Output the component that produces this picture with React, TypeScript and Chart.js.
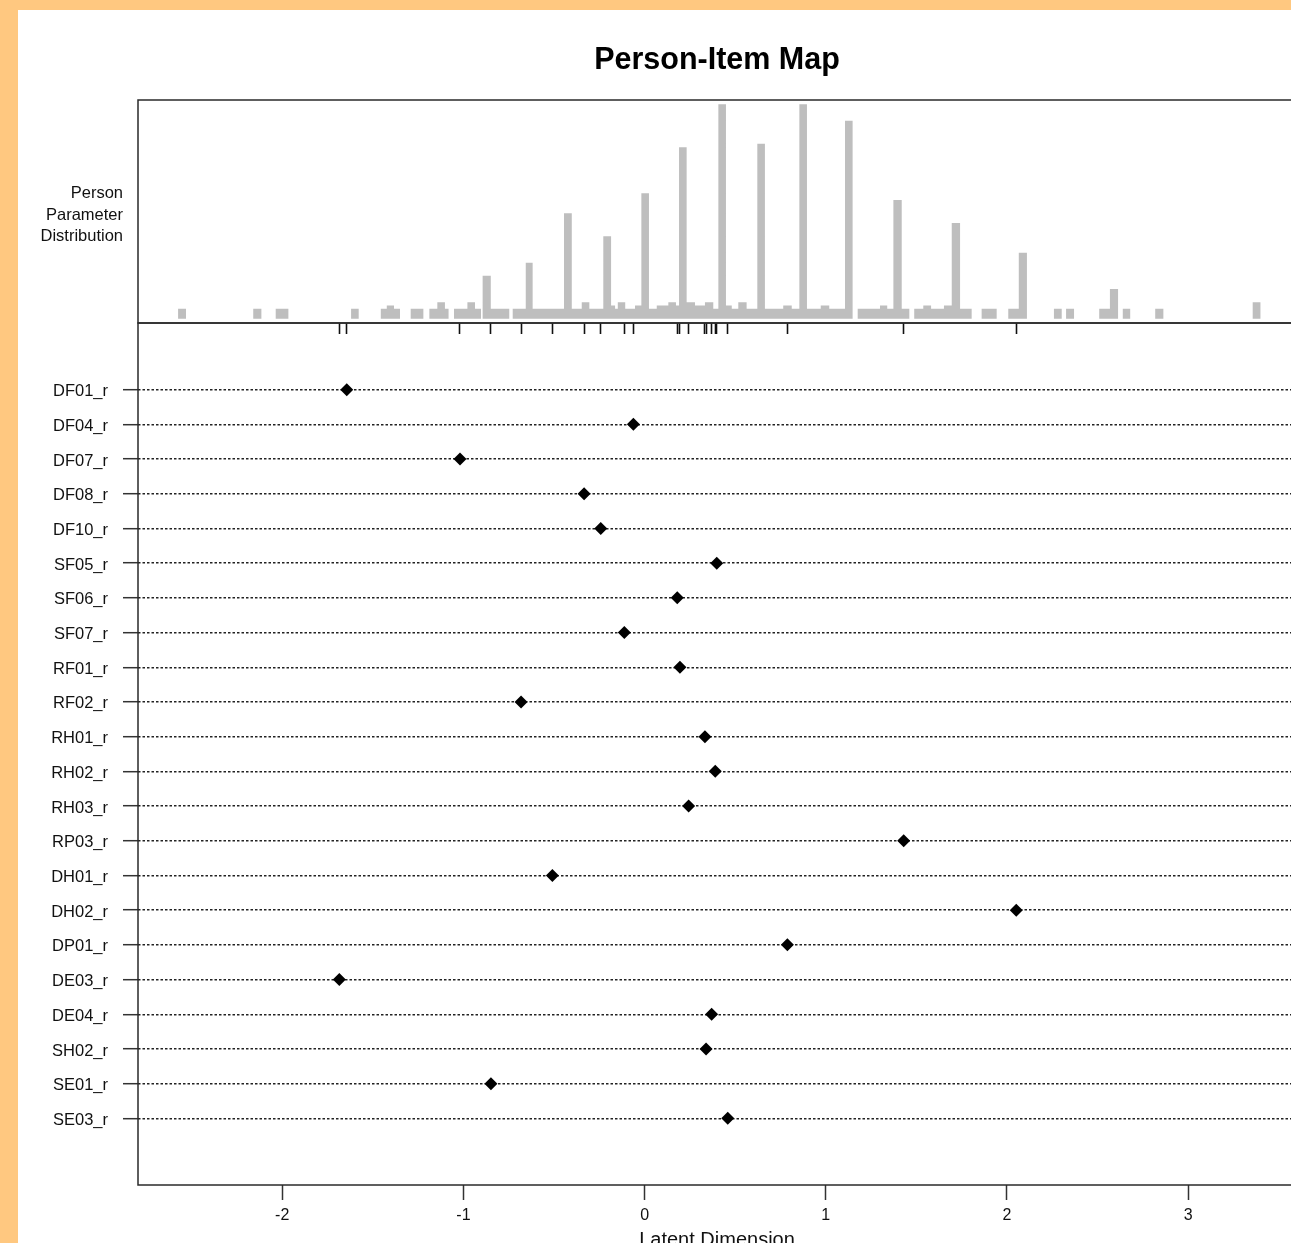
import React, { useEffect, useRef } from "react";
import { Chart, registerables } from "chart.js";

Chart.register(...registerables);

const FONT = '"Liberation Sans", Arial, Helvetica, sans-serif';

// Items (rows, top to bottom) and their locations on the latent dimension
const itemNames = [
  "DF01_r", "DF04_r", "DF07_r", "DF08_r", "DF10_r", "SF05_r", "SF06_r", "SF07_r",
  "RF01_r", "RF02_r", "RH01_r", "RH02_r", "RH03_r", "RP03_r", "DH01_r", "DH02_r",
  "DP01_r", "DE03_r", "DE04_r", "SH02_r", "SE01_r", "SE03_r",
];
const itemLocations = [
  -1.644, -0.062, -1.019, -0.334, -0.242, 0.398, 0.180, -0.112,
  0.195, -0.682, 0.333, 0.390, 0.243, 1.430, -0.509, 2.051,
  0.788, -1.685, 0.370, 0.339, -0.848, 0.459,
];

// Person parameter distribution: count holds from each edge to the next edge
const histEdges = [
  -2.575, -2.531, -2.160, -2.115, -2.036, -1.966, -1.620, -1.578, -1.456, -1.423,
  -1.383, -1.350, -1.291, -1.221, -1.188, -1.144, -1.102, -1.082, -1.052, -0.978,
  -0.936, -0.903, -0.894, -0.849, -0.747, -0.728, -0.656, -0.618, -0.445, -0.402,
  -0.347, -0.305, -0.228, -0.185, -0.163, -0.148, -0.107, -0.053, -0.018, 0.024,
  0.067, 0.131, 0.173, 0.190, 0.232, 0.278, 0.333, 0.379, 0.407, 0.449,
  0.481, 0.517, 0.563, 0.622, 0.664, 0.765, 0.812, 0.854, 0.896, 0.972,
  1.019, 1.106, 1.148, 1.176, 1.299, 1.339, 1.373, 1.419, 1.461, 1.488,
  1.538, 1.581, 1.652, 1.695, 1.741, 1.805, 1.860, 1.943, 2.007, 2.065,
  2.110, 2.259, 2.302, 2.326, 2.370, 2.509, 2.568, 2.613, 2.639, 2.680,
  2.818, 2.863, 3.356, 3.400,
];
const histCounts = [
  3, 0, 3, 0, 3, 0, 3, 0, 3, 4,
  3, 0, 3, 0, 3, 5, 3, 0, 3, 5,
  3, 0, 13, 3, 0, 3, 17, 3, 32, 3,
  5, 3, 25, 4, 3, 5, 3, 4, 38, 3,
  4, 5, 4, 52, 5, 4, 5, 3, 65, 4,
  3, 5, 3, 53, 3, 4, 3, 65, 3, 4,
  3, 60, 0, 3, 4, 3, 36, 3, 0, 3,
  4, 3, 4, 29, 3, 0, 3, 0, 3, 20,
  0, 3, 0, 3, 0, 3, 9, 0, 3, 0,
  3, 0, 5, 0,
];

const xTickValues = [-2, -1, 0, 1, 2, 3];
const sideLabelLines = ["Person", "Parameter", "Distribution"];

const X_MIN = -2.796;
const X_MAX = 3.595;

const boxPlugin = {
  id: "panelBox",
  afterDraw(chart: any) {
    const { ctx, chartArea: a } = chart;
    ctx.save();
    ctx.strokeStyle = "#2a2a2a";
    ctx.lineWidth = 1.5;
    ctx.strokeRect(a.left, a.top, a.right - a.left, a.bottom - a.top);
    ctx.restore();
  },
};

const sideLabelPlugin = {
  id: "sideLabel",
  afterDraw(chart: any) {
    const { ctx, chartArea: a } = chart;
    ctx.save();
    ctx.font = `16.5px ${FONT}`;
    ctx.fillStyle = "#111";
    ctx.textAlign = "right";
    ctx.textBaseline = "middle";
    const cy = (a.top + a.bottom) / 2 + 3.5;
    sideLabelLines.forEach((t, i) => ctx.fillText(t, a.left - 15, cy + (i - 1) * 21.5));
    ctx.restore();
  },
};

export default function App() {
  const topRef = useRef<HTMLCanvasElement>(null);
  const botRef = useRef<HTMLCanvasElement>(null);

  useEffect(() => {
    Chart.defaults.font.family = FONT;
    const top = new Chart(topRef.current as HTMLCanvasElement, {
      type: "line",
      data: {
        datasets: [
          {
            data: histEdges.map((x, i) => ({ x, y: histCounts[i] })),
            stepped: "before",
            fill: "origin",
            backgroundColor: "#BEBEBE",
            borderColor: "rgba(0,0,0,0)",
            borderWidth: 0,
            pointRadius: 0,
          } as any,
        ],
      },
      options: {
        responsive: false,
        animation: false,
        layout: { padding: { left: 138, right: 44, top: 43, bottom: 0 } },
        plugins: {
          legend: { display: false },
          tooltip: { enabled: false },
          title: {
            display: true,
            text: "Person-Item Map",
            fullSize: false,
            color: "#000",
            font: { family: FONT, size: 30.5, weight: "bold", lineHeight: "36px" } as any,
            padding: { top: 0, bottom: 21 },
          },
        },
        scales: {
          x: {
            type: "linear",
            min: X_MIN,
            max: X_MAX,
            afterBuildTicks: (ax: any) => {
              ax.ticks = itemLocations.map((v) => ({ value: v }));
            },
            afterFit: (ax: any) => {
              ax.height = 11;
              ax.paddingLeft = 0;
              ax.paddingRight = 0;
            },
            ticks: { display: false },
            grid: {
              drawOnChartArea: false,
              drawTicks: true,
              tickLength: 11,
              tickColor: "#111",
              tickWidth: 1.6,
            },
            border: { display: false },
          },
          y: { display: false, min: -1.3, max: 66.3 },
        },
      },
      plugins: [boxPlugin, sideLabelPlugin],
    } as any);

    const bottom = new Chart(botRef.current as HTMLCanvasElement, {
      type: "scatter",
      data: {
        datasets: [
          {
            data: itemLocations.map((x, i) => ({ x, y: i + 1 })),
            pointStyle: "rectRot",
            pointRadius: 6.5,
            backgroundColor: "#000",
            borderColor: "#000",
            borderWidth: 0,
          } as any,
        ],
      },
      options: {
        responsive: false,
        animation: false,
        layout: { padding: { left: 0, right: 44, top: 10, bottom: 0 } },
        plugins: { legend: { display: false }, tooltip: { enabled: false } },
        scales: {
          x: {
            type: "linear",
            min: X_MIN,
            max: X_MAX,
            afterBuildTicks: (ax: any) => {
              ax.ticks = xTickValues.map((v) => ({ value: v }));
            },
            afterFit: (ax: any) => {
              ax.height = 69;
              ax.paddingLeft = 0;
              ax.paddingRight = 0;
            },
            ticks: {
              autoSkip: false,
              maxRotation: 0,
              padding: 6,
              color: "#111",
              font: { family: FONT, size: 16, lineHeight: "20px" } as any,
              callback: (v: any) => String(v),
            },
            grid: {
              drawOnChartArea: false,
              tickLength: 15,
              tickColor: "#333",
              tickWidth: 1.5,
            },
            border: { display: false },
            title: {
              display: true,
              text: "Latent Dimension",
              color: "#111",
              font: { family: FONT, size: 20, lineHeight: "20px" } as any,
              padding: { top: 4, bottom: 4 },
            },
          },
          y: {
            type: "linear",
            reverse: true,
            min: -0.92,
            max: 23.92,
            afterBuildTicks: (ax: any) => {
              ax.ticks = itemNames.map((_, i) => ({ value: i + 1 }));
            },
            afterFit: (ax: any) => {
              ax.width = 138;
              ax.paddingTop = 0;
              ax.paddingBottom = 0;
            },
            ticks: {
              autoSkip: false,
              padding: 15,
              labelOffset: 2,
              color: "#111",
              font: { family: FONT, size: 16.5 },
              callback: (v: any) => itemNames[Math.round(v) - 1] ?? "",
            },
            grid: {
              drawOnChartArea: true,
              color: "#222",
              lineWidth: 1.4,
              tickLength: 15,
              tickColor: "#333",
              tickWidth: 1.5,
              tickBorderDash: [],
            },
            border: { display: false, dash: [2.5, 2] },
          },
        },
      },
      plugins: [boxPlugin],
    } as any);

    return () => {
      top.destroy();
      bottom.destroy();
    };
  }, []);

  return (
    <div
      style={{
        position: "fixed",
        left: 0,
        top: 0,
        width: "100vw",
        height: "100vh",
        overflow: "hidden",
        background: "#FFC880",
      }}
    >
      <div
        style={{
          position: "absolute",
          left: 18,
          top: 10,
          right: -300,
          bottom: -300,
          background: "#ffffff",
        }}
      />
      <canvas
        ref={topRef}
        width={1340}
        height={334}
        style={{ position: "absolute", left: 0, top: 0 }}
      />
      <canvas
        ref={botRef}
        width={1340}
        height={941}
        style={{ position: "absolute", left: 0, top: 313 }}
      />
    </div>
  );
}
